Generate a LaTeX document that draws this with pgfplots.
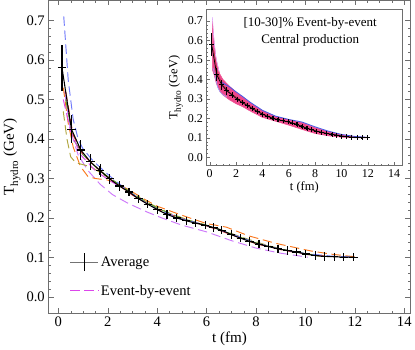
\documentclass[border=0pt]{standalone}
\usepackage{fontspec}
\setmainfont{Liberation Serif}
\usepackage{pgfplots}
\pgfplotsset{compat=1.18}

\definecolor{ebblue}{RGB}{110,120,250}
\definecolor{ebviolet}{RGB}{205,120,250}
\definecolor{eborange}{RGB}{250,120,30}
\definecolor{ebolive}{RGB}{175,165,60}
\definecolor{ebgreen}{RGB}{90,160,50}
\definecolor{ebred}{RGB}{225,50,50}
\definecolor{ebmag}{RGB}{220,70,235}
\definecolor{bandpink}{RGB}{235,40,120}
\definecolor{insetblue}{RGB}{70,90,230}
\definecolor{framegray}{RGB}{110,110,110}

\pgfplotsset{
  mmaframe/.style={
    axis line style={framegray}, tick style={framegray},
    tick align=inside,
    /pgf/number format/assume math mode=true,
    yticklabel style={/pgf/number format/.cd, fixed, fixed zerofill, precision=1},
    xtick={0,2,4,6,8,10,12,14},
    ytick={0,0.1,0.2,0.3,0.4,0.5,0.6,0.7},
    minor x tick num=3, minor y tick num=4,
  },
  ebb/.style={dash pattern=on 9pt off 4.5pt, line width=0.9pt},
  longlegend/.style={legend image code/.code={\draw[##1] (0cm,0cm) -- (0.95cm,0cm);}},
  avglegend/.style={legend image code/.code={
      \draw[black!55, line width=0.7pt] (0cm,0cm) -- (0.95cm,0cm);
      \draw[black, line width=0.8pt] (0.475cm,-8.5pt) -- (0.475cm,8.5pt);}},
}

\pgfplotstableread{
t     T      err
0.15  0.580  0.058
0.53  0.425  0.035
0.91  0.372  0.025
1.30  0.342  0.020
1.69  0.320  0.017
2.08  0.299  0.013
2.47  0.281  0.012
2.86  0.266  0.011
3.24  0.249  0.010
3.62  0.235  0.010
4.02  0.221  0.010
4.40  0.209  0.010
4.80  0.200  0.010
5.18  0.193  0.010
5.56  0.187  0.010
5.94  0.182  0.010
6.28  0.176  0.010
6.62  0.169  0.010
7.00  0.158  0.010
7.38  0.149  0.010
7.74  0.141  0.010
8.12  0.134  0.009
8.50  0.128  0.009
8.89  0.122  0.008
9.27  0.118  0.008
9.64  0.114  0.008
10.02 0.109  0.007
10.40 0.105  0.006
10.78 0.103  0.004
11.17 0.102  0.003
11.55 0.101  0.002
11.94 0.101  0.001
}\avgdata

\begin{document}
\begin{tikzpicture}
\begin{axis}[
  mmaframe,
  scale only axis, width=348pt, height=301pt,
  xmin=-0.4, xmax=14.25, ymin=-0.041, ymax=0.751,
  major tick length=5pt, minor tick length=2.5pt,
  tick label style={font=\fontsize{14}{15}\selectfont},
  label style={font=\fontsize{14.5}{15}\selectfont},
  xlabel={t (fm)},
  ylabel={T\raisebox{-0.6ex}{\fontsize{10.5}{11}\selectfont hydro} (GeV)},
  xlabel style={yshift=2pt},
  ylabel style={yshift=-1pt},
  legend style={at={(0.05,0.2)}, anchor=north west, draw=none, fill=none,
    font=\fontsize{14}{15}\selectfont, row sep=11pt},
  legend cell align=left,
]
\addlegendimage{avglegend}
\addlegendentry{Average}
\addlegendimage{ebmag, ebb, longlegend}
\addlegendentry{Event-by-event}

\addplot[ebviolet, ebb, forget plot] coordinates {
(0.25,0.52)(0.5,0.42)(0.8,0.36)(1.2,0.32)(1.7,0.285)(2.2,0.259)(2.8,0.238)
(3.6,0.215)(4.2,0.200)(5,0.182)(6,0.165)(7,0.143)(8,0.124)(9,0.111)(10.1,0.101)};
\addplot[eborange, ebb, forget plot] coordinates {
(0.2,0.53)(0.4,0.44)(0.6,0.38)(0.9,0.33)(1.2,0.305)(1.5,0.300)(2.0,0.296)
(2.5,0.284)(3,0.266)(3.5,0.247)(4,0.230)(5,0.207)(6,0.186)(6.8,0.177)
(7.7,0.155)(8.8,0.136)(10.2,0.117)(11,0.109)(12,0.102)};
\addplot[ebolive, ebb, forget plot] coordinates {
(0.2,0.47)(0.35,0.40)(0.5,0.355)(0.7,0.34)(1.0,0.335)(1.3,0.33)(1.7,0.315)
(2.2,0.295)(2.8,0.27)(3.5,0.243)(4.5,0.212)(5.5,0.19)(6.5,0.172)(7.5,0.15)
(8.5,0.13)(9.5,0.115)(10.6,0.103)};
\addplot[ebgreen, ebb, forget plot] coordinates {
(0.3,0.50)(0.6,0.40)(1.0,0.36)(1.5,0.33)(2,0.305)(3,0.262)(4,0.225)(5,0.199)
(6,0.182)(7,0.160)(8,0.137)(9,0.121)(10,0.110)(10.7,0.104)};
\addplot[ebred, ebb, forget plot] coordinates {
(0.3,0.52)(0.6,0.41)(1.0,0.36)(1.5,0.33)(2,0.303)(3,0.258)(4,0.222)(5,0.198)
(6,0.180)(7,0.158)(8,0.135)(9,0.120)(10,0.108)(11,0.103)};
\addplot[ebmag, ebb, forget plot] coordinates {
(0.2,0.50)(0.5,0.42)(0.9,0.36)(1.5,0.32)(2,0.298)(2.6,0.275)};
\addplot[ebblue, ebb, forget plot] coordinates {
(0.22,0.71)(0.4,0.55)(0.6,0.45)(0.8,0.40)(1.0,0.375)(1.4,0.345)(1.8,0.322)
(2.2,0.300)(2.6,0.280)(3.0,0.261)(3.5,0.240)(4.0,0.222)(5,0.198)(6,0.181)
(7,0.160)(8,0.137)(9,0.121)(10,0.110)(11,0.104)(12,0.101)};

\addplot[black, line width=1pt, mark=+, mark size=4pt, forget plot,
  mark options={line width=1.1pt},
  error bars/.cd, y dir=both, y explicit,
  error bar style={line width=1pt}, error mark=none]
  table[x=t, y=T, y error=err] {\avgdata};
\end{axis}

\begin{axis}[
  mmaframe,
  at={(152pt,142pt)}, anchor=south west,
  scale only axis, width=188pt, height=150pt,
  xmin=-0.24, xmax=14.6, ymin=-0.043, ymax=0.759,
  axis background/.style={fill=white},
  major tick length=3pt, minor tick length=1.5pt,
  tick label style={font=\fontsize{11.5}{12}\selectfont},
  label style={font=\fontsize{12}{13}\selectfont},
  xtick pos=left, ytick pos=left,
  xlabel={t (fm)},
  ylabel={T\raisebox{-0.6ex}{\fontsize{9}{10}\selectfont hydro} (GeV)},
  xlabel style={yshift=3pt},
  ylabel style={yshift=-2pt},
]
\addplot[fill=bandpink, fill opacity=0.85, draw=bandpink!80, line width=0.5pt] coordinates {
(0.2,0.70)(0.35,0.58)(0.5,0.50)(0.75,0.43)(1,0.40)(1.5,0.365)(2,0.335)(2.5,0.31)
(3,0.285)(3.5,0.26)(4,0.24)(5,0.21)(6,0.193)(7,0.178)(8,0.152)(9,0.132)(10,0.116)
(11,0.106)(12,0.102)
(12,0.099)(11,0.100)(10,0.103)(9,0.110)(8,0.122)(7,0.143)(6,0.165)(5,0.185)
(4,0.205)(3,0.24)(2.5,0.26)(2,0.275)(1.5,0.295)(1,0.32)(0.75,0.34)(0.5,0.38)
(0.35,0.42)(0.2,0.45)} -- cycle;
\addplot[ebviolet!60, line width=0.6pt] coordinates {
(0.2,0.72)(0.3,0.62)(0.45,0.52)(0.7,0.44)};
\addplot[insetblue, line width=0.8pt] coordinates {
(0.9,0.385)(1.5,0.362)(2,0.336)(2.5,0.312)(3,0.286)(4,0.241)(5,0.211)(6,0.194)
(7,0.181)(8,0.156)(9,0.134)(10,0.117)(11,0.107)(12,0.102)};
\addplot[ebblue!70, line width=0.6pt] coordinates {
(0.25,0.46)(0.4,0.42)(0.6,0.36)(0.8,0.335)(1.0,0.322)(1.3,0.31)};
\addplot[ebred!80!black, line width=0.4pt] coordinates {
(0.3,0.55)(0.6,0.43)(1,0.37)(1.5,0.335)(2,0.31)(3,0.265)(4,0.225)(5,0.197)
(6,0.18)(7,0.16)(8,0.136)(9,0.12)(10,0.109)(11,0.103)(12,0.101)};
\addplot[black, line width=0.7pt, mark=+, mark size=2.4pt,
  error bars/.cd, y dir=both, y explicit,
  error bar style={line width=0.9pt}, error mark=none]
  table[x=t, y=T, y error=err] {\avgdata};
\node[align=center, font=\fontsize{12.5}{16}\selectfont, anchor=north]
  at (rel axis cs:0.53,0.97) {[10-30]\% Event-by-event\\Central production};
\end{axis}
\end{tikzpicture}
\end{document}
